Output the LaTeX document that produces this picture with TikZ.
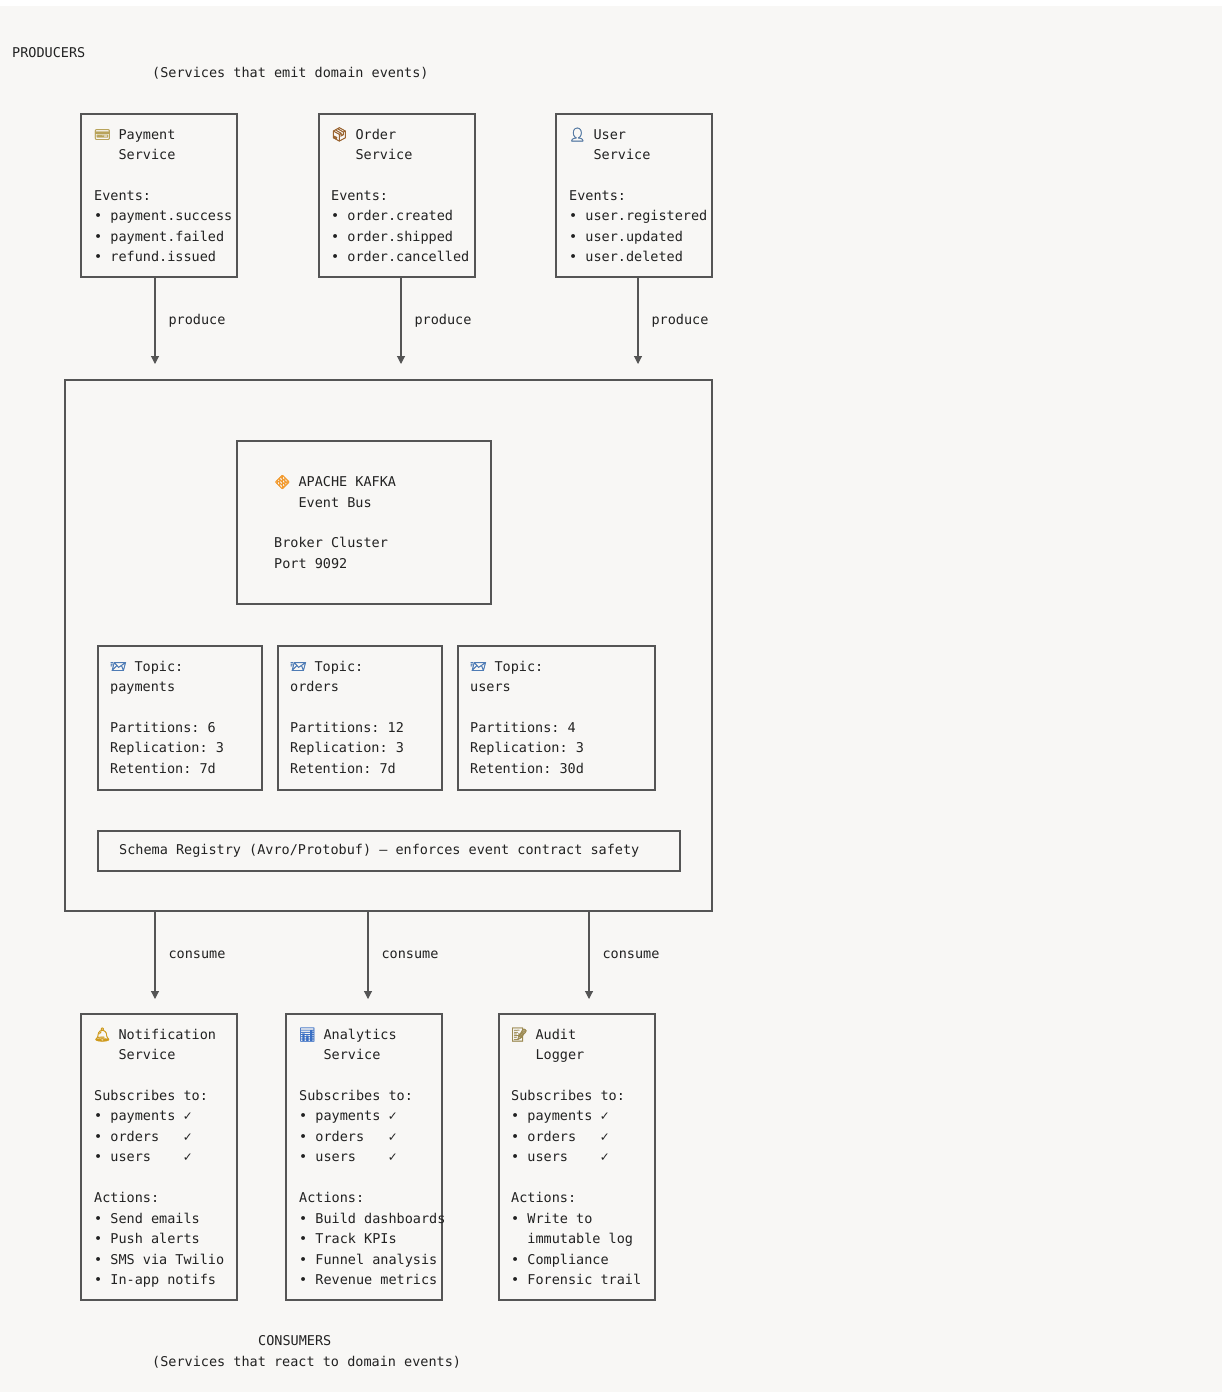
\documentclass[tikz,border=0pt]{standalone}
\usepackage{fontspec}
\setmonofont{DejaVu Sans Mono}
\newfontfamily\emojifont[FakeBold=2.5]{Noto Emoji}
\usepackage{xcolor}
\usepackage{tikz}
\usetikzlibrary{positioning, arrows.meta}

\definecolor{paper}{HTML}{F8F7F5}
\definecolor{ink}{HTML}{222222}
\definecolor{rule}{HTML}{555555}
\definecolor{cardc}{HTML}{B8A35A}
\definecolor{boxc}{HTML}{9A6430}
\definecolor{userc}{HTML}{577BA4}
\definecolor{kafkac}{HTML}{F29A2E}
\definecolor{mailc}{HTML}{4F7CB5}
\definecolor{bellc}{HTML}{CF9A1C}
\definecolor{statc}{HTML}{3A6FC4}
\definecolor{auditc}{HTML}{9C8A52}

\newlength\charw
\setlength\charw{8.13pt}
\newcommand\ico[2]{\makebox[2\charw]{\textcolor{#1}{\emojifont #2}}}

\tikzset{
  panel/.style={draw=rule, line width=1.1pt, inner sep=0pt, outer sep=0pt, anchor=north west},
  svc/.style={panel, minimum width=156pt, minimum height=163pt},
  topic/.style={panel, minimum width=164pt, minimum height=144pt},
  cons/.style={panel, minimum width=156pt, minimum height=286pt},
  body/.style={font=\ttfamily\fontsize{13.5}{20.45}\selectfont, text=ink, align=left, inner sep=0pt, anchor=north west},
  tag/.style={font=\ttfamily\fontsize{13.5}{20.45}\selectfont, text=ink, inner sep=0pt, anchor=base west},
  lbl/.style={font=\ttfamily\fontsize{13.5}{20.45}\selectfont, text=ink, inner sep=0pt},
  flow/.style={draw=rule, line width=1.1pt, -{Triangle[width=8pt, length=8pt]}}
}

\begin{document}
\begin{tikzpicture}[x=1pt, y=-1pt]
  % canvas
  \fill[white] (0,0) rectangle (1222,1392);
  \fill[paper] (0,6) rectangle (1222,1392);

  % producers
  \node[tag] (prodhead) at (12,57) {PRODUCERS};
  \node[tag] (prodsub) at (152,77) {(Services that emit domain events)};

  \node[svc] (pay) at (81,114) {};
  \node[svc, right=82pt of pay] (order) {};
  \node[svc, right=81pt of order] (user) {};

  \node[body, below right=10.65pt and 13pt of pay.north west] (paytext)
    {\strut\ico{cardc}{💳}~Payment\\~~~Service\\ \\Events:\\• payment.success\\• payment.failed\\• refund.issued};
  \node[body, below right=10.65pt and 12pt of order.north west] (ordertext)
    {\strut\ico{boxc}{📦}~Order\\~~~Service\\ \\Events:\\• order.created\\• order.shipped\\• order.cancelled};
  \node[body, below right=10.65pt and 13pt of user.north west] (usertext)
    {\strut\ico{userc}{👤}~User\\~~~Service\\ \\Events:\\• user.registered\\• user.updated\\• user.deleted};

  % event bus
  \node[panel, minimum width=647pt, minimum height=531pt] (bus) at (65,380) {};
  \node[panel, minimum width=254pt, minimum height=163pt] (kafka) at (237,441) {};
  \node[body, below right=10.65pt and 37pt of kafka.north west] (kafkatext)
    {\strut\\\ico{kafkac}{🔶}~APACHE KAFKA\\~~~Event Bus\\ \\Broker Cluster\\Port 9092};

  \node[topic] (tpay) at (98,646) {};
  \node[topic, right=16pt of tpay] (torder) {};
  \node[topic, minimum width=197pt, right=16pt of torder] (tuser) {};

  \node[body, below right=10.65pt and 12pt of tpay.north west] (tpaytext)
    {\strut\ico{mailc}{📨}~Topic:\\payments\\ \\Partitions: 6\\Replication: 3\\Retention: 7d};
  \node[body, below right=10.65pt and 12pt of torder.north west] (tordertext)
    {\strut\ico{mailc}{📨}~Topic:\\orders\\ \\Partitions: 12\\Replication: 3\\Retention: 7d};
  \node[body, below right=10.65pt and 12pt of tuser.north west] (tusertext)
    {\strut\ico{mailc}{📨}~Topic:\\users\\ \\Partitions: 4\\Replication: 3\\Retention: 30d};

  \node[panel, minimum width=582pt, minimum height=40pt] (schema) at (98,831) {};
  \node[lbl, right=21pt of schema.west] (schematext)
    {Schema Registry (Avro/Protobuf) — enforces event contract safety};

  % produce / consume
  \foreach \src/\px [count=\i] in {pay/155, order/401, user/638} {
    \coordinate (pin\i) at (\px,364);
    \draw[flow] (\src.south -| pin\i) -- node[lbl, right=13pt] (produce\i) {produce} (pin\i);
  }
  \foreach \px [count=\i] in {155, 368, 589} {
    \coordinate (cin\i) at (\px,999);
    \draw[flow] (bus.south -| cin\i) -- node[lbl, right=13pt] (consume\i) {consume} (cin\i);
  }

  % consumers
  \node[cons] (notif) at (81,1014) {};
  \node[cons, right=49pt of notif] (stats) {};
  \node[cons, right=57pt of stats] (audit) {};

  \node[body, below right=10.65pt and 13pt of notif.north west] (notiftext)
    {\strut\ico{bellc}{🔔}~Notification\\~~~Service\\ \\Subscribes to:\\• payments ✓\\• orders~~~✓\\• users~~~~✓\\ \\Actions:\\• Send emails\\• Push alerts\\• SMS via Twilio\\• In-app notifs};
  \node[body, below right=10.65pt and 13pt of stats.north west] (statstext)
    {\strut\ico{statc}{📊}~Analytics\\~~~Service\\ \\Subscribes to:\\• payments ✓\\• orders~~~✓\\• users~~~~✓\\ \\Actions:\\• Build dashboards\\• Track KPIs\\• Funnel analysis\\• Revenue metrics};
  \node[body, below right=10.65pt and 12pt of audit.north west] (audittext)
    {\strut\ico{auditc}{📝}~Audit\\~~~Logger\\ \\Subscribes to:\\• payments ✓\\• orders~~~✓\\• users~~~~✓\\ \\Actions:\\• Write to\\~~immutable log\\• Compliance\\• Forensic trail};

  \node[tag] (conshead) at (258,1345) {CONSUMERS};
  \node[tag] (conssub) at (152,1366) {(Services that react to domain events)};
\end{tikzpicture}
\end{document}
